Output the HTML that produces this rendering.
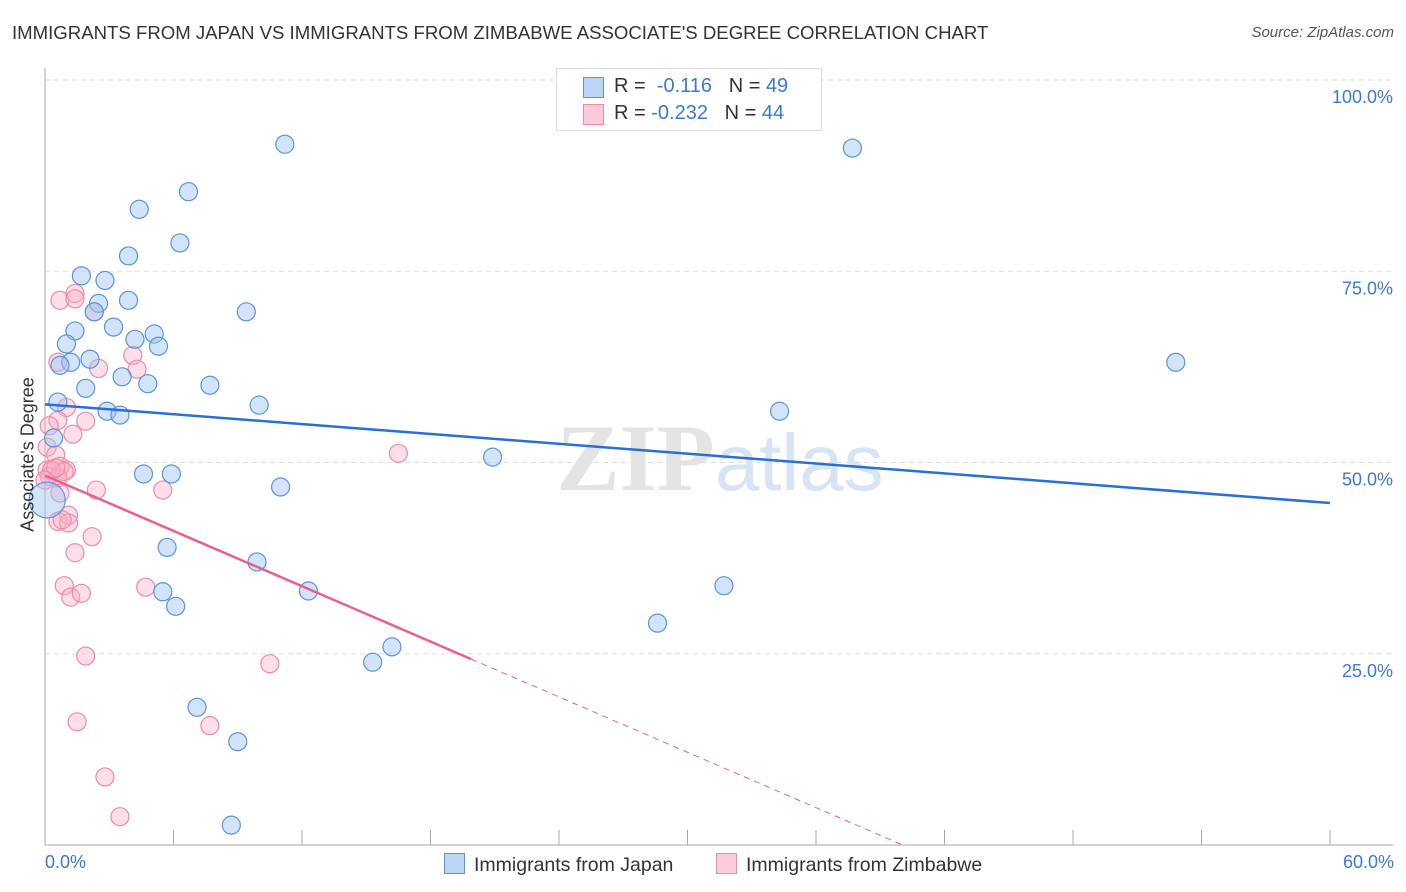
<!DOCTYPE html>
<html><head><meta charset="utf-8"><style>
body{margin:0;background:#fff;font-family:"Liberation Sans",sans-serif}
#wrap{position:relative;width:1406px;height:892px;overflow:hidden}
.t{position:absolute;white-space:nowrap}
</style></head><body>
<div id="wrap">
<div class="t" style="left:12px;top:22px;font-size:18.6px;color:#333">IMMIGRANTS FROM JAPAN VS IMMIGRANTS FROM ZIMBABWE ASSOCIATE'S DEGREE CORRELATION CHART</div>
<div class="t" style="right:12px;top:24px;font-size:15px;color:#555;font-style:italic">Source: ZipAtlas.com</div>
<svg id="svg" width="1406" height="892" style="position:absolute;left:0;top:0"></svg>
</div>
<script>
const blueX=[11.2,37.7,6.7,4.4,6.3,3.9,1.7,2.8,2.5,3.9,2.3,9.4,3.2,1.4,5.1,4.2,5.3,1.0,2.1,1.2,0.7,52.8,3.6,4.8,1.9,7.7,0.6,10.0,2.9,3.5,34.3,0.4,20.9,4.6,5.9,11.0,0.1,5.7,9.9,12.3,5.5,6.1,31.7,28.6,16.2,15.3,7.1,9.0,8.7];
const blueY=[91.6,91.1,85.4,83.1,78.7,77.0,74.4,73.8,70.8,71.2,69.7,69.7,67.7,67.2,66.8,66.1,65.2,65.5,63.5,63.1,62.7,63.1,61.2,60.3,59.7,60.1,57.9,57.5,56.7,56.2,56.7,53.2,50.7,48.5,48.5,46.8,45.1,38.9,37.0,33.2,33.1,31.2,33.9,29.0,25.9,23.9,18.0,13.5,2.6];
const pinkX=[0.7,1.4,1.4,2.3,4.1,0.6,4.3,2.5,1.0,0.6,1.9,0.2,1.3,0.1,0.5,0.1,0.7,1.0,0.2,0.9,0.6,16.5,2.4,5.5,0.7,1.1,0.6,1.1,2.2,1.4,0.9,4.7,1.2,1.7,1.9,10.5,1.5,7.7,2.8,3.5,0.3,0.5,0.0,0.8];
const pinkY=[71.2,72.1,71.4,69.7,64.0,63.1,62.2,62.3,57.2,55.5,55.4,54.8,53.7,52.0,51.0,49.0,49.5,49.0,48.2,48.8,48.0,51.2,46.4,46.4,46.0,43.1,42.3,42.1,40.3,38.2,33.9,33.7,32.4,32.9,24.7,23.7,16.1,15.6,8.9,3.7,49.0,49.3,47.7,42.5];
const blueTrend=[57.6,44.7];
const pinkTrend=[48.3,-1.206];
const yTicks=[25,50,75,100];
const xTickVals=[0,6,12,18,24,30,36,42,48,54,60];
const NS="http://www.w3.org/2000/svg";
const svg=document.getElementById('svg');
const X=v=>45+v/60*1285, Y=v=>845-v/100*765;
function mk(tag,a){const e=document.createElementNS(NS,tag);for(const k in a)e.setAttribute(k,a[k]);svg.appendChild(e);return e;}
yTicks.forEach(t=>{
 const l=mk('line',{x1:45,x2:1393,y1:Y(t),y2:Y(t),stroke:'#ddd','stroke-dasharray':'5,4'});
 
 
 const tx=mk('text',{x:1393,y:Y(t)+23,'text-anchor':'end','font-size':18,fill:'#3b78d8','font-family':'Liberation Sans'});
 tx.textContent=t.toFixed(1)+'%';
 
 
});
let ax=mk('line',{x1:45,x2:45,y1:68,y2:845,stroke:'#aaa'});


let bx=mk('line',{x1:45,x2:1393,y1:845,y2:845,stroke:'#aaa'});


xTickVals.forEach(v=>{const l=mk('line',{x1:X(v),x2:X(v),y1:830,y2:845,stroke:'#aaa'});
 
 });
let wm=mk('text',{x:720,y:490,'text-anchor':'middle','font-size':95,fill:'#e4e4e4','font-family':'Liberation Serif','font-weight':'bold'});
wm.innerHTML='ZIP<tspan fill="#d8e4f4" font-family="Liberation Sans" font-weight="normal" font-size="80">atlas</tspan>';


pinkX.forEach((x,i)=>{const c=mk('circle',{cx:X(x),cy:Y(pinkY[i]),r:9,fill:'rgba(248,175,198,0.4)',stroke:'#f08aa8','stroke-width':1.2});
 
 });
blueX.forEach((x,i)=>{const c=mk('circle',{cx:X(x),cy:Y(blueY[i]),r:i==36?18:9,fill:'rgba(160,195,240,0.45)',stroke:'#5b93e0','stroke-width':1.2});
 
 });
let bt=mk('line',{x1:X(0),y1:Y(blueTrend[0]),x2:X(60),y2:Y(blueTrend[1]),stroke:'#2a6fd6','stroke-width':2.5});


const pe=19.9, pend=-pinkTrend[0]/pinkTrend[1];
let pt=mk('line',{x1:X(0),y1:Y(pinkTrend[0]),x2:X(pe),y2:Y(pinkTrend[0]+pinkTrend[1]*pe),stroke:'#e8608c','stroke-width':2.5});


let pd=mk('line',{x1:X(pe),y1:Y(pinkTrend[0]+pinkTrend[1]*pe),x2:X(pend),y2:Y(0),stroke:'#e8608c','stroke-width':1,'stroke-dasharray':'6,5'});


</script>
<div class="t" style="left:45px;top:852px;font-size:18px;color:#3b78d8">0.0%</div>
<div class="t" style="right:12px;top:852px;font-size:18px;color:#3b78d8">60.0%</div>
<div class="t" style="left:-57px;top:444px;font-size:18px;color:#333;transform:rotate(-90deg);transform-origin:center;width:170px;text-align:center">Associate's Degree</div>
<div style="position:absolute;left:556px;top:68px;width:264px;height:61px;border:1px solid #ddd;background:#fff;font-size:20px">
 <div style="position:absolute;left:26px;top:8px;width:19px;height:19px;background:#bcd4f6;border:1px solid #5b93e0"></div>
 <div class="t" style="left:57px;top:6px;color:#333">R = <span style="color:#3b78d8">&nbsp;-0.116</span>&nbsp;&nbsp;&nbsp;N = <span style="color:#3b78d8">49</span></div>
 <div style="position:absolute;left:26px;top:35px;width:19px;height:19px;background:#fbcbd9;border:1px solid #f08aa8"></div>
 <div class="t" style="left:57px;top:33px;color:#333">R = <span style="color:#3b78d8">-0.232</span>&nbsp;&nbsp;&nbsp;N = <span style="color:#3b78d8">44</span></div>
</div>
<div style="position:absolute;left:444px;top:853px;font-size:19.5px;color:#333">
 <span style="display:inline-block;width:19px;height:19px;background:#bcd4f6;border:1px solid #5b93e0;vertical-align:-3px;margin-right:9px"></span>Immigrants from Japan</div>
<div style="position:absolute;left:716px;top:853px;font-size:19.5px;color:#333">
 <span style="display:inline-block;width:19px;height:19px;background:#fbcbd9;border:1px solid #f08aa8;vertical-align:-3px;margin-right:9px"></span>Immigrants from Zimbabwe</div>
</body></html>
